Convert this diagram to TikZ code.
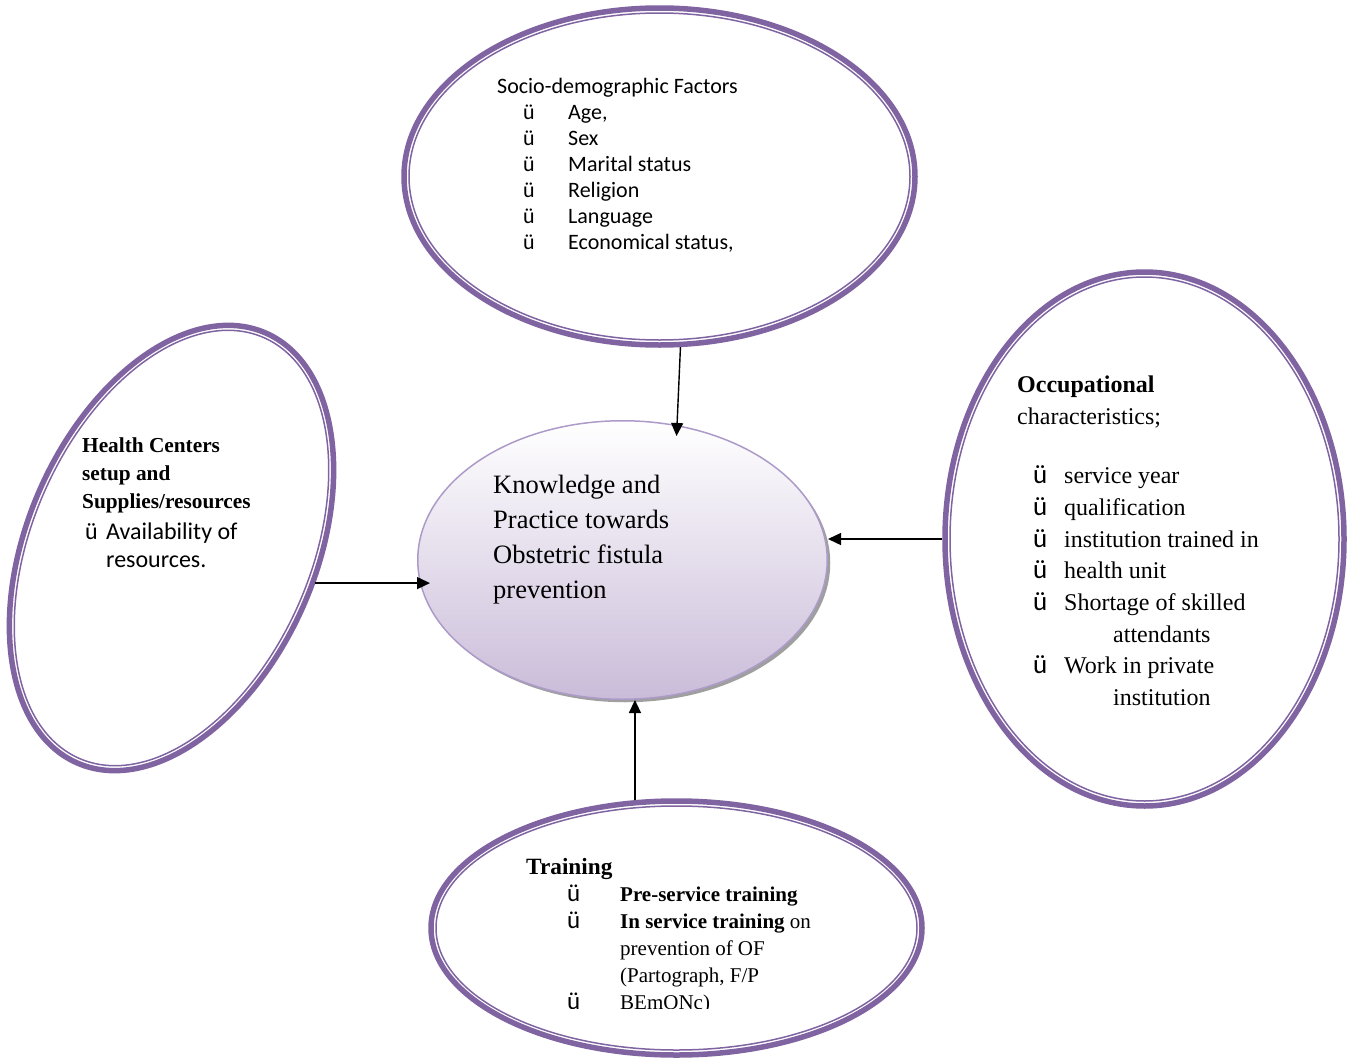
\documentclass[tikz,border=0pt]{standalone}
\usepackage{fontspec}
\setmainfont{Liberation Serif}
\newfontfamily\calfont{Carlito}
\usepackage{tikz}
\usetikzlibrary{arrows.meta, shapes.geometric, shadows, positioning}
\definecolor{ringpurple}{HTML}{8064A2}
\definecolor{kpborder}{HTML}{AC9BC9}
\definecolor{kpbottom}{HTML}{CABCD9}
\newcommand{\ckmark}[1]{\makebox[#1][l]{\calfont ü}}

\begin{document}
\begin{tikzpicture}[x=1pt,y=-1pt,
		ring/.style={ellipse, draw=ringpurple, line width=5.5pt, inner sep=0pt},
		thinring/.style={ellipse, draw=ringpurple, line width=1.5pt, inner sep=0pt},
		txt/.style={inner sep=0pt, anchor=north west, align=left},
		link/.style={line width=1.4pt, -{Triangle[length=13pt,width=12pt]}}]
				\useasboundingbox (0,0) rectangle (1353,1060);
				\node[ellipse, draw=kpborder, line width=1.5pt, inner sep=0pt, minimum width=409.5, minimum height=278.5, top color=white, bottom color=kpbottom, drop shadow={shadow xshift=3pt, shadow yshift=-3pt, fill=gray!75, opacity=1}] (kp) at (622.5,560) {};
				\node[ring, minimum width=511, minimum height=337] (soc) at (659.5,176.5) {};
				\node[thinring, minimum width=501, minimum height=327] at (soc.center) {};
				\node[ring, minimum width=399, minimum height=534] (occ) at (1144.5,539) {};
				\node[thinring, minimum width=389, minimum height=524] at (occ.center) {};
				\node[ring, rotate=-23.7, minimum width=288, minimum height=469.5] (hc) at (171.5,548) {};
				\node[thinring, rotate=-23.7, minimum width=278, minimum height=459.5] at (hc.center) {};
				\node[ring, minimum width=491, minimum height=254] (train) at (676.5,928) {};
				\node[thinring, minimum width=481, minimum height=244] at (train.center) {};
				\node[txt, font=\fontsize{26.5}{35}\selectfont] (kptext) at (493,475) {Knowledge and\\ Practice towards\\ Obstetric fistula\\ prevention};
				\node[txt, font=\calfont\fontsize{22}{26}\selectfont] (soclist) at (497,78) {Socio-demographic Factors\\
					\hspace*{26pt}\ckmark{45pt}Age,\\
					\hspace*{26pt}\ckmark{45pt}Sex\\
					\hspace*{26pt}\ckmark{45pt}Marital status\\
					\hspace*{26pt}\ckmark{45pt}Religion\\
					\hspace*{26pt}\ckmark{45pt}Language\\
					\hspace*{26pt}\ckmark{45pt}Economical status,};
				\node[txt, font=\bfseries\fontsize{21.3}{28}\selectfont] (hclist) at (82,438) {Health Centers\\ setup and\\ Supplies/resources\\[3pt]
					\hspace*{3pt}{\mdseries\calfont\fontsize{24}{28}\selectfont\ckmark{21pt}Availability of}\\
					\hspace*{24pt}{\mdseries\calfont\fontsize{24}{28}\selectfont resources.}};
				\node[txt, font=\fontsize{24}{31.7}\selectfont] (occlist) at (1017,375.5) {\textbf{Occupational}\\ characteristics;\\[28pt]
					\hspace*{16pt}\makebox[31pt][l]{\calfont\fontsize{27}{31.7}\selectfont ü}service year\\
					\hspace*{16pt}\makebox[31pt][l]{\calfont\fontsize{27}{31.7}\selectfont ü}qualification\\
					\hspace*{16pt}\makebox[31pt][l]{\calfont\fontsize{27}{31.7}\selectfont ü}institution trained in\\
					\hspace*{16pt}\makebox[31pt][l]{\calfont\fontsize{27}{31.7}\selectfont ü}health unit\\
					\hspace*{16pt}\makebox[31pt][l]{\calfont\fontsize{27}{31.7}\selectfont ü}Shortage of skilled\\
					\hspace*{96pt}attendants\\
					\hspace*{16pt}\makebox[31pt][l]{\calfont\fontsize{27}{31.7}\selectfont ü}Work in private\\
					\hspace*{96pt}institution};
				\begin{scope}
					\clip (0,0) rectangle (1353,1008);
					\node[txt, font=\fontsize{21}{27}\selectfont] (trainlist) at (526,858) {{\bfseries\fontsize{23.3}{27}\selectfont Training}\\
						\hspace*{41pt}\makebox[53pt][l]{\calfont\fontsize{25}{27}\selectfont ü}\textbf{Pre-service training}\\
						\hspace*{41pt}\makebox[53pt][l]{\calfont\fontsize{25}{27}\selectfont ü}\textbf{In service training} on\\
						\hspace*{94pt}prevention of OF\\
						\hspace*{94pt}(Partograph, F/P\\
						\hspace*{41pt}\makebox[53pt][l]{\calfont\fontsize{25}{27}\selectfont ü}BEmONc)};
				\end{scope}
				\draw[link, shorten >=-11pt] (soc.-83) -- (kp.68);
				\draw[link] (occ.west) -- (occ.west -| kp.east);
				\draw[link] (train.108) -- (train.108 |- kp.south);
				\draw[link, shorten >=-13pt] (hc.10) -- (hc.10 -| kp.west);
\end{tikzpicture}
\end{document}
